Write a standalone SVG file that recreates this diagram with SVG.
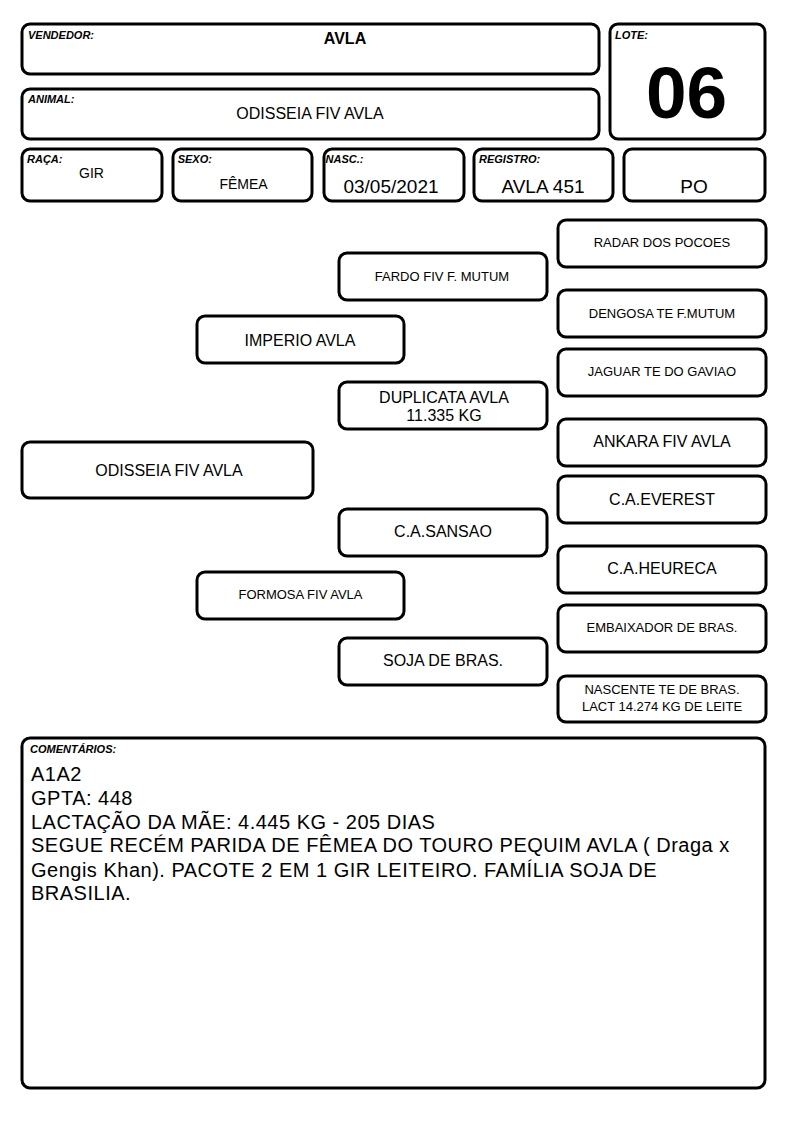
<svg xmlns="http://www.w3.org/2000/svg" width="794" height="1123" viewBox="0 0 794 1123">
<style>
.box{fill:#fff;stroke:#000;stroke-width:3}
text{font-family:"Liberation Sans",Arial,sans-serif;fill:#000}
.lbl{font-size:11px;font-weight:bold;font-style:italic}
.s13{font-size:13px;text-anchor:middle}
.s14{font-size:14px;text-anchor:middle}
.s16{font-size:16px;text-anchor:middle}
.s19{font-size:19px;text-anchor:middle}
.cm{font-size:20px;letter-spacing:0.5px}
</style>
<rect width="794" height="1123" fill="#fff"/>
<g id="vendedor"><rect class="box" x="22" y="24" width="577" height="50" rx="8"/><text class="lbl" x="28" y="39">VENDEDOR:</text><text class="s16" x="345" y="43.5" font-weight="bold">AVLA</text></g>
<g id="animal"><rect class="box" x="22" y="89" width="577" height="50" rx="8"/><text class="lbl" x="28" y="103">ANIMAL:</text><text class="s16" x="310" y="119">ODISSEIA FIV AVLA</text></g>
<g id="lote"><rect class="box" x="610" y="24" width="155" height="115" rx="8"/><text class="lbl" x="615" y="38.5">LOTE:</text><text x="686.5" y="118" font-size="73" font-weight="bold" text-anchor="middle">06</text></g>
<g id="raca"><rect class="box" x="22" y="149" width="140" height="52" rx="8"/><text class="lbl" x="27" y="163">RAÇA:</text><text class="s14" x="91.5" y="177.7">GIR</text></g>
<g id="sexo"><rect class="box" x="173" y="149" width="139" height="52" rx="8"/><text class="lbl" x="177.7" y="163">SEXO:</text><text class="s14" x="243.5" y="189">FÊMEA</text></g>
<g id="nasc"><rect class="box" x="324" y="149" width="140" height="52" rx="8"/><text class="lbl" x="325.5" y="163">NASC.:</text><text class="s19" x="391" y="193">03/05/2021</text></g>
<g id="registro"><rect class="box" x="474" y="149" width="139" height="52" rx="8"/><text class="lbl" x="479" y="163">REGISTRO:</text><text class="s19" x="543" y="193">AVLA 451</text></g>
<g id="po"><rect class="box" x="624" y="149" width="141" height="52" rx="8"/><text class="s19" x="694" y="193">PO</text></g>
<g id="connectors"></g>
<g id="radar"><rect class="box" x="558" y="220" width="208" height="47" rx="8"/><text class="s13" x="662" y="246.7">RADAR DOS POCOES</text></g>
<g id="dengosa"><rect class="box" x="558" y="290" width="208" height="47" rx="8"/><text class="s13" x="662" y="318.3">DENGOSA TE F.MUTUM</text></g>
<g id="jaguar"><rect class="box" x="558" y="349" width="208" height="47" rx="8"/><text class="s13" x="662" y="375.7">JAGUAR TE DO GAVIAO</text></g>
<g id="ankara"><rect class="box" x="558" y="419" width="208" height="47" rx="8"/><text class="s16" x="662" y="447.3">ANKARA FIV AVLA</text></g>
<g id="everest"><rect class="box" x="558" y="476" width="208" height="47" rx="8"/><text class="s16" x="662" y="505">C.A.EVEREST</text></g>
<g id="heureca"><rect class="box" x="558" y="546" width="208" height="47" rx="8"/><text class="s16" x="662" y="574">C.A.HEURECA</text></g>
<g id="embaixador"><rect class="box" x="558" y="605" width="208" height="47" rx="8"/><text class="s13" x="662" y="631.7">EMBAIXADOR DE BRAS.</text></g>
<g id="nascente"><rect class="box" x="558" y="676" width="208" height="46" rx="8"/><text class="s13" x="662" y="694">NASCENTE TE DE BRAS.</text><text class="s13" x="662" y="710.7">LACT 14.274 KG DE LEITE</text></g>
<g id="fardo"><rect class="box" x="339" y="253" width="208" height="47" rx="8"/><text class="s13" x="442" y="281">FARDO FIV F. MUTUM</text></g>
<g id="imperio"><rect class="box" x="197" y="316" width="207" height="47" rx="8"/><text class="s16" x="300" y="346">IMPERIO AVLA</text></g>
<g id="duplicata"><rect class="box" x="339" y="382" width="208" height="47" rx="8"/><text class="s16" x="444" y="402.7">DUPLICATA AVLA</text><text class="s16" x="444" y="420.7">11.335 KG</text></g>
<g id="odisseia"><rect class="box" x="22" y="442" width="291" height="56" rx="8"/><text class="s16" x="169" y="475.7">ODISSEIA FIV AVLA</text></g>
<g id="sansao"><rect class="box" x="339" y="509" width="208" height="47" rx="8"/><text class="s16" x="443" y="537">C.A.SANSAO</text></g>
<g id="formosa"><rect class="box" x="197" y="572" width="207" height="47" rx="8"/><text class="s13" x="300.5" y="599">FORMOSA FIV AVLA</text></g>
<g id="soja"><rect class="box" x="339" y="638" width="208" height="47" rx="8"/><text class="s16" x="443" y="665.7">SOJA DE BRAS.</text></g>
<g id="comentarios"><rect class="box" x="22" y="738" width="743" height="350" rx="8"/><text class="lbl" x="30" y="752.7">COMENTÁRIOS:</text>
<text class="cm" x="31" y="781">A1A2</text>
<text class="cm" x="31" y="804.7">GPTA: 448</text>
<text class="cm" x="31" y="828.7">LACTAÇÃO DA MÃE: 4.445 KG - 205 DIAS</text>
<text class="cm" x="31" y="852.3">SEGUE RECÉM PARIDA DE FÊMEA DO TOURO PEQUIM AVLA ( Draga x</text>
<text class="cm" x="31" y="876.5">Gengis Khan). PACOTE 2 EM 1 GIR LEITEIRO. FAMÍLIA SOJA DE</text>
<text class="cm" x="31" y="900">BRASILIA.</text></g>
</svg>
